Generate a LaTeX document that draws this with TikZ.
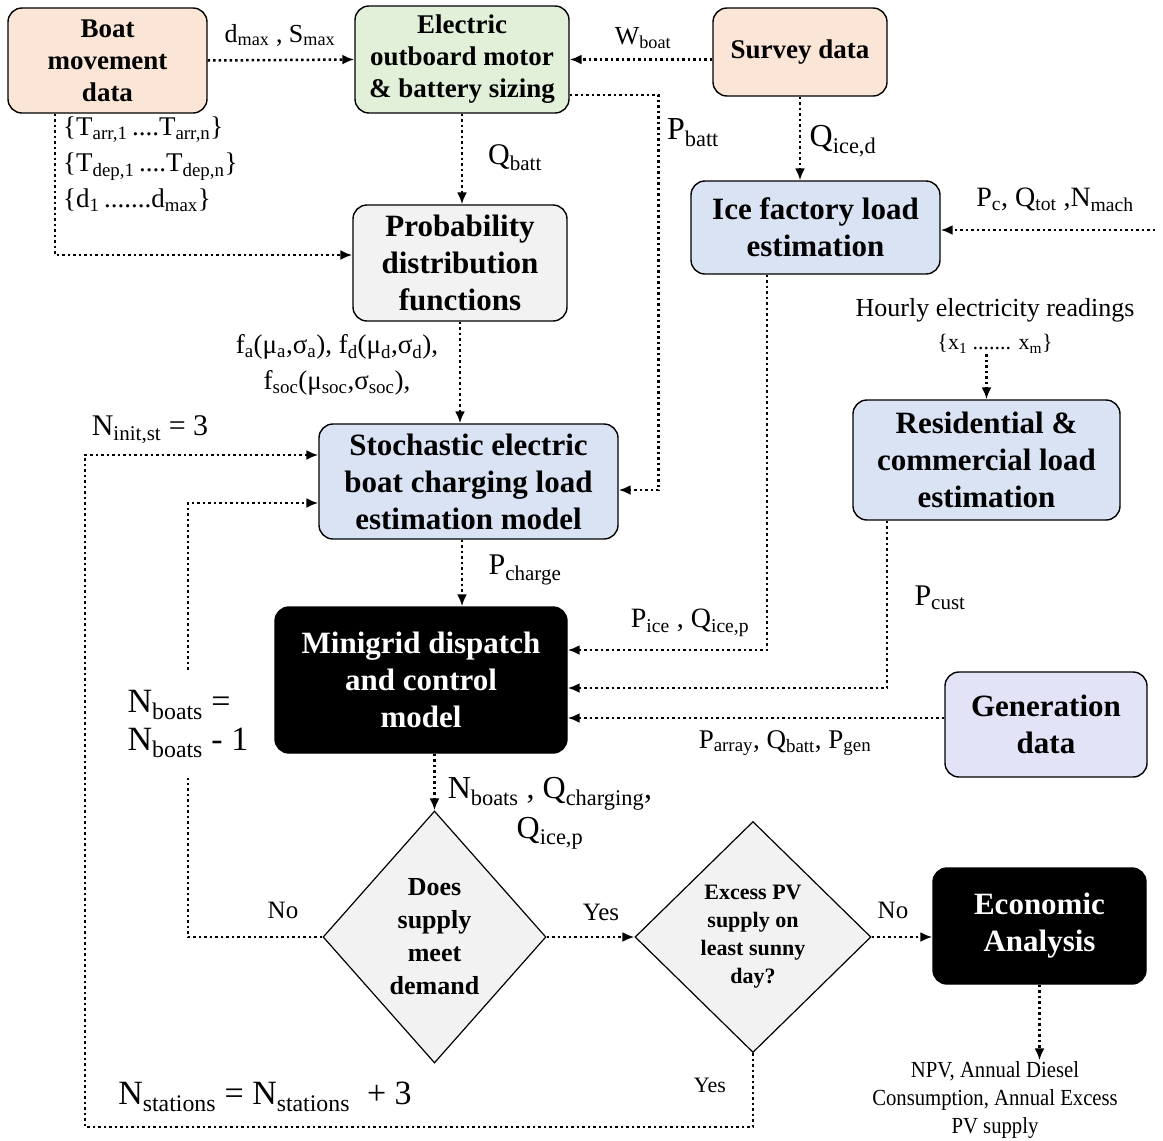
\documentclass[tikz,border=0pt]{standalone}
\usepackage{fontspec}
\setmainfont{Liberation Serif}
\newfontfamily\condfont[FakeStretch=0.9]{Liberation Serif}
\usetikzlibrary{shapes.geometric}
\usetikzlibrary{arrows.meta}
\newcommand{\sbs}[1]{\textsubscript{#1}}
\newcommand{\fsz}[2]{\fontsize{#1}{#2}\selectfont}
\definecolor{peachfill}{HTML}{FBE5D6}
\definecolor{greenfill}{HTML}{E2F0D9}
\definecolor{greyfill}{HTML}{F2F2F2}
\definecolor{bluefill}{HTML}{DAE3F3}
\definecolor{lilacfill}{HTML}{E3E3F8}

\begin{document}
\begin{tikzpicture}[x=1pt,y=-1pt,
  box/.style={draw,line width=1.4pt,rounded corners=14pt,align=center,inner sep=0pt,font=\bfseries\fsz{31}{37}},
  smallbox/.style={box,font=\bfseries\fsz{27}{32}},
  darkbox/.style={box,fill=black,text=white},
  decision/.style={diamond,draw,line width=1.2pt,fill=greyfill,align=center,inner sep=0pt},
  flow/.style={line width=2.5pt,dash pattern=on 2.5pt off 3pt,-{Latex[length=12pt,width=10pt]}},
  flowline/.style={line width=2.5pt,dash pattern=on 2.5pt off 3pt},
  lbl/.style={align=center,inner sep=1pt}]
\useasboundingbox (0,0) rectangle (1163,1141);

% data sources
\node[smallbox,fill=peachfill,minimum width=199pt,minimum height=105pt] (boat) at (107.5,60.5) {Boat\\movement\\data};
\node[smallbox,fill=greenfill,minimum width=214pt,minimum height=107pt] (elec) at (462,59.5) {Electric\\outboard motor\\\& battery sizing};
\node[smallbox,fill=peachfill,minimum width=174pt,minimum height=88pt] (survey) at (800,52) {Survey data};
\node[box,fill=greyfill,minimum width=214pt,minimum height=116pt] (prob) at (460,263) {Probability\\distribution\\functions};
\node[box,fill=bluefill,minimum width=249pt,minimum height=93pt] (ice) at (815.5,227.5) {Ice factory load\\estimation};
\node[box,fill=bluefill,minimum width=299pt,minimum height=115pt] (stoch) at (468.5,481.5) {Stochastic electric\\boat charging load\\estimation model};
\node[box,fill=bluefill,minimum width=267pt,minimum height=120pt] (resid) at (986.5,460) {Residential \&\\commercial load\\estimation};
\node[darkbox,minimum width=292pt,minimum height=146pt] (mini) at (421,680) {Minigrid dispatch\\and control\\model}; %dispatch
\node[box,fill=lilacfill,minimum width=202pt,minimum height=105pt] (gen) at (1046,724.5) {Generation\\data};
\node[decision,minimum width=223pt,minimum height=252pt,font=\bfseries\fsz{26}{33}] (does) at (434.5,937) {Does\\supply\\meet\\demand};
\node[decision,minimum width=236pt,minimum height=231pt,font=\bfseries\fsz{22}{28}] (excess) at (753,937) {Excess PV\\supply on\\least sunny\\day?};
\node[darkbox,minimum width=213pt,minimum height=116pt] (econ) at (1039.5,926) {Economic\\Analysis};

% labels
\node[lbl,font=\fsz{26}{30}] (ldmax) at (280,35) {d\sbs{max} , S\sbs{max}};
\node[lbl,font=\fsz{26}{30}] (lwboat) at (643,38) {W\sbs{boat}};
\node[lbl,align=left,anchor=north west,font=\fsz{27}{36}] (ltimes) at (62,116) {\{T\sbs{arr,1}\,....T\sbs{arr,n}\}\\\{T\sbs{dep,1}\,....T\sbs{dep,n}\}\\\{d\sbs{1}\,.......d\sbs{max}\}};
\node[lbl,font=\fsz{30}{36}] (lqbatt) at (515,158) {Q\sbs{batt}};
\node[lbl,font=\fsz{32}{36}] (lpbatt) at (693,133) {P\sbs{batt}};
\node[lbl,font=\fsz{32}{36}] (lqiced) at (843,141) {Q\sbs{ice,d}};
\node[lbl,font=\fsz{28}{34}] (lpc) at (1055,200) {P\sbs{c}, Q\sbs{tot} ,N\sbs{mach}};
\node[lbl,font=\fsz{26}{33}] (hourly) at (995,326) {Hourly electricity readings\\{\fsz{22}{33}\{x\sbs{1} ....... x\sbs{m}\}}};
\node[lbl,font=\fsz{27}{36}] (lpdf) at (337,365) {f\sbs{a}(μ\sbs{a},σ\sbs{a}), f\sbs{d}(μ\sbs{d},σ\sbs{d}),\\f\sbs{soc}(μ\sbs{soc},σ\sbs{soc}),};
\node[lbl,font=\fsz{30}{36}] (lninit) at (150,430) {N\sbs{init,st} = 3};
\node[lbl,font=\fsz{30}{36}] (lpcharge) at (525,570) {P\sbs{charge}};
\node[lbl,font=\fsz{28}{34}] (lpice) at (690,623) {P\sbs{ice} , Q\sbs{ice,p}};
\node[lbl,font=\fsz{30}{36}] (lpcust) at (940,598) {P\sbs{cust}};
\node[lbl,font=\fsz{27}{34}] (lparray) at (785,743) {P\sbs{array}, Q\sbs{batt}, P\sbs{gen}};
\node[lbl,align=left,inner ysep=20pt,font=\fsz{34}{38}] (lnboats) at (188,724) {N\sbs{boats} =\\N\sbs{boats} - 1};
\node[lbl,font=\fsz{32}{40}] (lnbq) at (550,813) {N\sbs{boats} , Q\sbs{charging},\\Q\sbs{ice,p}};
\node[lbl,font=\fsz{25}{30}] (lno1) at (283,910) {No};
\node[lbl,font=\fsz{25}{30}] (lyes1) at (601,912) {Yes};
\node[lbl,font=\fsz{25}{30}] (lno2) at (893,910) {No};
\node[lbl,font=\fsz{22}{30}] (lyes2) at (710,1085) {Yes};
\node[lbl,font=\fsz{34}{40}] (lnst) at (265,1097) {N\sbs{stations} = N\sbs{stations} \ + 3};
\node[lbl,font=\condfont\fsz{23}{28}] (npv) at (995,1100) {NPV, Annual Diesel\\Consumption, Annual Excess\\PV supply};

\coordinate (pcin) at (1155,230);
\coordinate (loopc) at (85,1127);

% connectors
\draw[flow] (boat.east) -- (elec.west);
\draw[flow] (survey.west |- elec.east) -- (elec.east);
\draw[flow] ([xshift=-52.5pt]boat.south) |- ([yshift=8pt]prob.west);
\draw[flow] (elec.south) -- (elec.south |- prob.north);
\draw[flow] ([yshift=-35.5pt]elec.east) -| ([xshift=40pt,yshift=-8.5pt]stoch.east) -- ([yshift=-8.5pt]stoch.east);
\draw[flow] (survey.south) -- (survey.south |- ice.north);
\draw[flow] (pcin) -- (pcin -| ice.east);
\draw[flow] (hourly.south -| resid.north) -- (resid.north);
\draw[flow] (prob.south) -- (prob.south |- stoch.north);
\draw[flow] ([xshift=-6.5pt]stoch.south) -- ([xshift=-6.5pt]stoch.south |- mini.north);
\draw[flow] ([xshift=-48.5pt]ice.south) |- ([yshift=30pt]mini.east);
\draw[flow] ([xshift=-99.5pt]resid.south) |- ([yshift=-8pt]mini.east);
\draw[flow] ([yshift=6.5pt]gen.west) -- ([yshift=6.5pt]gen.west -| mini.east);
\draw[flow] (does.north |- mini.south) -- (does.north);
\draw[flow] (does.east) -- (excess.west);
\draw[flow] (excess.east) -- (excess.east -| econ.west);
\draw[flow] (econ.south) -- (econ.south |- npv.north);
\draw[flowline] (does.west) -| (lnboats.south); %boat loop
\draw[flow] (lnboats.north) |- ([yshift=-21.5pt]stoch.west);
\draw[flow] (excess.south) |- (loopc) |- ([yshift=26.5pt]stoch.west); %station loop
\end{tikzpicture}
\end{document}
